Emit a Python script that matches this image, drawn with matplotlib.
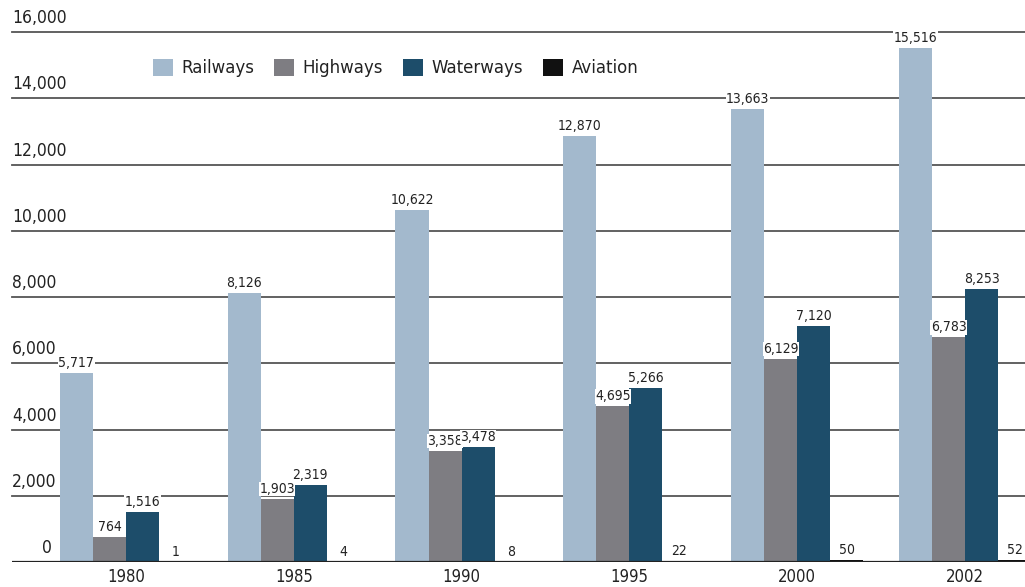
import matplotlib
matplotlib.use("Agg")
import matplotlib.pyplot as plt
import numpy as np
from matplotlib.patches import Patch

years = ["1980", "1985", "1990", "1995", "2000", "2002"]
railways = [5717, 8126, 10622, 12870, 13663, 15516]
highways = [764, 1903, 3358, 4695, 6129, 6783]
waterways = [1516, 2319, 3478, 5266, 7120, 8253]
aviation = [1, 4, 8, 22, 50, 52]
series_names = ["Railways", "Highways", "Waterways", "Aviation"]
y_ticks = [0, 2000, 4000, 6000, 8000, 10000, 12000, 14000, 16000]

colors = ["#a3b9cd", "#7e7d82", "#1d4d6a", "#111111"]
cond = dict(family="DejaVu Sans", stretch="condensed")

fig = plt.figure(figsize=(10.25, 5.87), dpi=100)
ax = fig.add_axes([12 / 1025, 1 - 562 / 587, 1 - 12 / 1025, (562 - 32) / 587])

x = np.arange(len(years))
w = 0.197
all_series = [railways, highways, waterways, aviation]
for k, (vals, col) in enumerate(zip(all_series, colors)):
    pos = x + (k - 1.5) * w
    ax.bar(pos, vals, width=w, color=col, zorder=3)
    for px, v in zip(pos, vals):
        ax.text(px, v + 90, f"{v:,}", ha="center", va="bottom", fontsize=10,
                color="#222222", zorder=4,
                bbox=dict(facecolor="white", edgecolor="none", pad=0.2), **cond)

ax.set_xlim(-0.679, 5.357)
ax.set_ylim(0, 16000)
for s in ax.spines.values():
    s.set_visible(False)
ax.set_yticks([])
for t in y_ticks[1:]:
    ax.axhline(t, color="#555555", lw=1.3, zorder=1, clip_on=False)
ax.axhline(0, color="#222222", lw=1.6, zorder=5)
for t in y_ticks[1:]:
    ax.text(0, t + 150, f"{t:,}", transform=ax.get_yaxis_transform(), ha="left",
            va="bottom", fontsize=12.5, color="#222222", **cond)
# the zero label is pushed right, under the comma column
ax.text(40 / (1025 - 12), 150, "0", transform=ax.get_yaxis_transform(), ha="right",
        va="bottom", fontsize=12.5, color="#222222", **cond)
ax.set_xticks(x)
ax.set_xticklabels(years, fontsize=12, color="#222222", **cond)
ax.tick_params(axis="x", length=0, pad=4)

handles = [Patch(facecolor=c, edgecolor="none") for c in colors]
fig.legend(handles, series_names, loc="center left", bbox_to_anchor=(138 / 1025, 1 - 68 / 587),
           ncol=4, frameon=False, fontsize=12, handlelength=1.2, handleheight=1.2,
           handletextpad=0.5, columnspacing=1.2, labelcolor="#222222")

fig.savefig("out.png", dpi=100)
